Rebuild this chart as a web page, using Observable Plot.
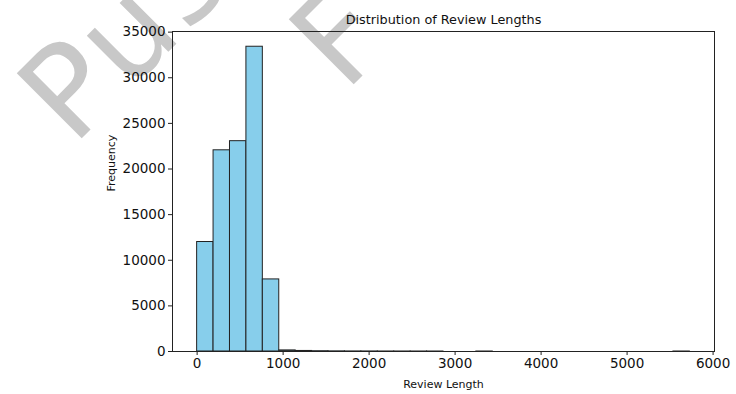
<!DOCTYPE html>
<html>
<head>
<meta charset="utf-8">
<script src="https://cdn.jsdelivr.net/npm/d3@7"></script>
<script src="https://cdn.jsdelivr.net/npm/@observablehq/plot@0.6"></script>
<style>
  html, body { margin: 0; padding: 0; background: #fff; }
  #chart { width: 736px; height: 394px; overflow: hidden; }
</style>
</head>
<body>
<div id="chart"></div>
<script>
// Histogram bin edges (review length) and counts per bin
const binEdges = [0, 191, 382, 573, 764, 955, 1146, 1337, 1528, 1719, 1910,
  2101, 2292, 2483, 2674, 2865, 3056, 3247, 3438, 3629, 3820,
  4011, 4202, 4393, 4584, 4775, 4966, 5157, 5348, 5539, 5730];
const counts = [12000, 22050, 23050, 33400, 7900,
  120, 60, 30, 15, 8,
  6, 3, 2, 1, 1, 0, 0, 1, 0, 0,
  0, 0, 0, 0, 0, 0, 0, 0, 0, 1];
const xTicks = [0, 1000, 2000, 3000, 4000, 5000, 6000];
const yTicks = [0, 5000, 10000, 15000, 20000, 25000, 30000, 35000];
const titleText = "Distribution of Review Lengths";
const xLabel = "Review Length";
const yLabel = "Frequency";
const watermarkParts = ["Pus", "F"];

const bins = counts.map((c, i) => ({x1: binEdges[i], x2: binEdges[i + 1], count: c})).filter(d => d.count > 0);

const xMin = binEdges[0], xMax = binEdges[binEdges.length - 1];
const xPad = 0.05 * (xMax - xMin);
const yMax = d3.max(counts) * 1.05;

const font = "DejaVu Sans";

const plot = Plot.plot({
  width: 736,
  height: 394,
  marginLeft: 172,
  marginRight: 22,
  marginTop: 31,
  marginBottom: 43,
  style: {fontFamily: font, background: "#fff", color: "#000"},
  x: {domain: [xMin - xPad, xMax + xPad]},
  y: {domain: [0, yMax]},
  marks: [
    Plot.rectY(bins, {x1: "x1", x2: "x2", y1: 0, y2: "count", fill: "#87CEEB", stroke: "#222", strokeWidth: 1}),
    Plot.frame({stroke: "#222", strokeWidth: 1}),
    Plot.axisX({ticks: xTicks, tickSize: 4, tickPadding: 3, fontSize: 13.5, label: null, tickFormat: d => String(d), stroke: "#222", fill: "#111"}),
    Plot.axisY({ticks: yTicks, tickSize: 4, tickPadding: 3, fontSize: 13.5, label: null, tickFormat: d => String(d), stroke: "#222", fill: "#111"}),
    Plot.text([titleText], {frameAnchor: "top", dy: -12, lineAnchor: "middle", fontSize: 12.8, fill: "#111"}),
    Plot.text([xLabel], {frameAnchor: "bottom", dy: 33, lineAnchor: "middle", fontSize: 11, fill: "#111"}),
    Plot.text([yLabel], {frameAnchor: "left", dx: -61, rotate: -90, lineAnchor: "middle", fontSize: 11, fill: "#111"})
  ]
});

document.getElementById("chart").appendChild(plot);

// Watermark overlay (decorative text on the original image), drawn behind the chart
const svg = d3.select(plot);
const wm = svg.insert("g", ":first-child")
  .attr("font-family", font)
  .attr("font-size", 126)
  .attr("text-anchor", "start")
  .attr("fill", "#c8c8c8");
wm.append("text").attr("transform", "translate(73,147) rotate(-45)").attr("letter-spacing", 4).text(watermarkParts[0]);
wm.append("text").attr("transform", "translate(345,93) rotate(-45)").text(watermarkParts[1]);
</script>
</body>
</html>
